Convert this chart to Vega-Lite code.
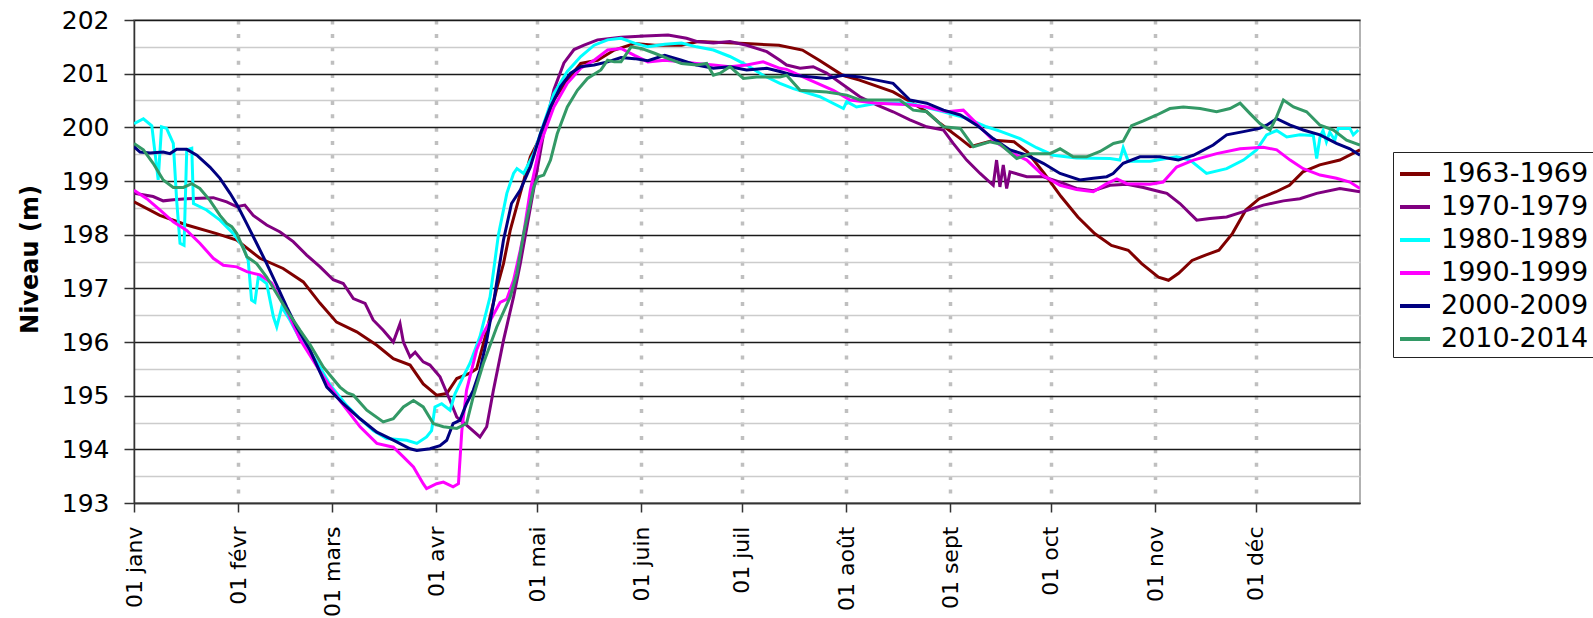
{
  "$schema": "https://vega.github.io/schema/vega-lite/v6.json",
  "width": 1226,
  "height": 483,
  "autosize": "none",
  "padding": {"left": 134, "top": 20, "right": 233, "bottom": 115},
  "background": "white",
  "config": {
    "view": {"stroke": "#999999", "strokeWidth": 1.5},
    "font": "DejaVu Sans"
  },
  "data": {"values": [
    {"periode":"1963-1969","jour":0,"niveau":198.61},{"periode":"1963-1969","jour":7.7,"niveau":198.36},{"periode":"1963-1969","jour":15.7,"niveau":198.18},{"periode":"1963-1969","jour":24.6,"niveau":198.02},{"periode":"1963-1969","jour":30.6,"niveau":197.9},{"periode":"1963-1969","jour":37.5,"niveau":197.56},{"periode":"1963-1969","jour":44.4,"niveau":197.37},{"periode":"1963-1969","jour":50.4,"niveau":197.12},{"periode":"1963-1969","jour":55.4,"niveau":196.72},{"periode":"1963-1969","jour":60.3,"niveau":196.37},{"periode":"1963-1969","jour":66.3,"niveau":196.19},{"periode":"1963-1969","jour":72.3,"niveau":195.94},{"periode":"1963-1969","jour":77.2,"niveau":195.69},{"periode":"1963-1969","jour":82.2,"niveau":195.57},{"periode":"1963-1969","jour":86.1,"niveau":195.22},{"periode":"1963-1969","jour":90.1,"niveau":195.01},{"periode":"1963-1969","jour":93.1,"niveau":195.04},{"periode":"1963-1969","jour":96.1,"niveau":195.32},{"periode":"1963-1969","jour":100,"niveau":195.42},{"periode":"1963-1969","jour":102,"niveau":195.5},{"periode":"1963-1969","jour":105,"niveau":196.2},{"periode":"1963-1969","jour":108,"niveau":197.0},{"periode":"1963-1969","jour":110,"niveau":197.46},{"periode":"1963-1969","jour":112,"niveau":198.08},{"periode":"1963-1969","jour":115,"niveau":198.77},{"periode":"1963-1969","jour":118,"niveau":199.45},{"periode":"1963-1969","jour":121,"niveau":199.82},{"periode":"1963-1969","jour":125,"niveau":200.51},{"periode":"1963-1969","jour":129,"niveau":200.88},{"periode":"1963-1969","jour":133,"niveau":201.19},{"periode":"1963-1969","jour":138,"niveau":201.25},{"periode":"1963-1969","jour":143,"niveau":201.44},{"periode":"1963-1969","jour":149,"niveau":201.56},{"periode":"1963-1969","jour":155,"niveau":201.53},{"periode":"1963-1969","jour":163,"niveau":201.53},{"periode":"1963-1969","jour":168,"niveau":201.6},{"periode":"1963-1969","jour":182,"niveau":201.56},{"periode":"1963-1969","jour":192,"niveau":201.53},{"periode":"1963-1969","jour":199,"niveau":201.44},{"periode":"1963-1969","jour":204,"niveau":201.25},{"periode":"1963-1969","jour":211,"niveau":200.97},{"periode":"1963-1969","jour":216,"niveau":200.88},{"periode":"1963-1969","jour":226,"niveau":200.66},{"periode":"1963-1969","jour":231,"niveau":200.48},{"periode":"1963-1969","jour":236,"niveau":200.29},{"periode":"1963-1969","jour":240,"niveau":200.07},{"periode":"1963-1969","jour":246,"niveau":199.79},{"periode":"1963-1969","jour":249,"niveau":199.64},{"periode":"1963-1969","jour":256,"niveau":199.76},{"periode":"1963-1969","jour":262,"niveau":199.73},{"periode":"1963-1969","jour":266,"niveau":199.54},{"periode":"1963-1969","jour":271,"niveau":199.14},{"periode":"1963-1969","jour":276,"niveau":198.71},{"periode":"1963-1969","jour":281,"niveau":198.33},{"periode":"1963-1969","jour":286,"niveau":198.02},{"periode":"1963-1969","jour":291,"niveau":197.8},{"periode":"1963-1969","jour":296,"niveau":197.71},{"periode":"1963-1969","jour":300,"niveau":197.46},{"periode":"1963-1969","jour":305,"niveau":197.21},{"periode":"1963-1969","jour":308,"niveau":197.15},{"periode":"1963-1969","jour":311,"niveau":197.28},{"periode":"1963-1969","jour":315,"niveau":197.52},{"periode":"1963-1969","jour":319,"niveau":197.62},{"periode":"1963-1969","jour":323,"niveau":197.71},{"periode":"1963-1969","jour":327,"niveau":198.02},{"periode":"1963-1969","jour":331,"niveau":198.46},{"periode":"1963-1969","jour":335,"niveau":198.67},{"periode":"1963-1969","jour":340,"niveau":198.8},{"periode":"1963-1969","jour":344,"niveau":198.92},{"periode":"1963-1969","jour":348,"niveau":199.17},{"periode":"1963-1969","jour":353,"niveau":199.3},{"periode":"1963-1969","jour":359,"niveau":199.39},{"periode":"1963-1969","jour":365,"niveau":199.58},

    {"periode":"1970-1979","jour":0,"niveau":198.77},{"periode":"1970-1979","jour":5.7,"niveau":198.71},{"periode":"1970-1979","jour":8.7,"niveau":198.63},{"periode":"1970-1979","jour":11.7,"niveau":198.65},{"periode":"1970-1979","jour":15.7,"niveau":198.67},{"periode":"1970-1979","jour":23.6,"niveau":198.69},{"periode":"1970-1979","jour":27.6,"niveau":198.61},{"periode":"1970-1979","jour":30.6,"niveau":198.52},{"periode":"1970-1979","jour":33,"niveau":198.55},{"periode":"1970-1979","jour":35.5,"niveau":198.36},{"periode":"1970-1979","jour":39.5,"niveau":198.18},{"periode":"1970-1979","jour":43.5,"niveau":198.05},{"periode":"1970-1979","jour":47.4,"niveau":197.87},{"periode":"1970-1979","jour":51.4,"niveau":197.62},{"periode":"1970-1979","jour":55.4,"niveau":197.4},{"periode":"1970-1979","jour":59.3,"niveau":197.16},{"periode":"1970-1979","jour":62.3,"niveau":197.09},{"periode":"1970-1979","jour":65.3,"niveau":196.81},{"periode":"1970-1979","jour":68.8,"niveau":196.72},{"periode":"1970-1979","jour":71.2,"niveau":196.41},{"periode":"1970-1979","jour":74.2,"niveau":196.22},{"periode":"1970-1979","jour":77.2,"niveau":196.0},{"periode":"1970-1979","jour":79.2,"niveau":196.34},{"periode":"1970-1979","jour":80.2,"niveau":196.0},{"periode":"1970-1979","jour":82.2,"niveau":195.72},{"periode":"1970-1979","jour":83.7,"niveau":195.81},{"periode":"1970-1979","jour":86.1,"niveau":195.63},{"periode":"1970-1979","jour":88.1,"niveau":195.57},{"periode":"1970-1979","jour":91.1,"niveau":195.35},{"periode":"1970-1979","jour":94.1,"niveau":194.91},{"periode":"1970-1979","jour":96.1,"niveau":194.6},{"periode":"1970-1979","jour":99,"niveau":194.45},{"periode":"1970-1979","jour":103,"niveau":194.23},{"periode":"1970-1979","jour":105,"niveau":194.42},{"periode":"1970-1979","jour":107,"niveau":195.1},{"periode":"1970-1979","jour":110,"niveau":196.03},{"periode":"1970-1979","jour":113,"niveau":196.84},{"periode":"1970-1979","jour":115,"niveau":197.46},{"periode":"1970-1979","jour":118,"niveau":198.5},{"periode":"1970-1979","jour":120,"niveau":199.2},{"periode":"1970-1979","jour":122,"niveau":199.9},{"periode":"1970-1979","jour":125,"niveau":200.7},{"periode":"1970-1979","jour":128,"niveau":201.2},{"periode":"1970-1979","jour":131,"niveau":201.45},{"periode":"1970-1979","jour":134,"niveau":201.53},{"periode":"1970-1979","jour":138,"niveau":201.63},{"periode":"1970-1979","jour":145,"niveau":201.68},{"periode":"1970-1979","jour":152,"niveau":201.7},{"periode":"1970-1979","jour":159,"niveau":201.72},{"periode":"1970-1979","jour":164.5,"niveau":201.66},{"periode":"1970-1979","jour":167.5,"niveau":201.6},{"periode":"1970-1979","jour":172.5,"niveau":201.57},{"periode":"1970-1979","jour":177.4,"niveau":201.6},{"periode":"1970-1979","jour":182.4,"niveau":201.53},{"periode":"1970-1979","jour":188.4,"niveau":201.41},{"periode":"1970-1979","jour":192.3,"niveau":201.25},{"periode":"1970-1979","jour":194.3,"niveau":201.16},{"periode":"1970-1979","jour":198.3,"niveau":201.1},{"periode":"1970-1979","jour":202.2,"niveau":201.13},{"periode":"1970-1979","jour":206.2,"niveau":201.01},{"periode":"1970-1979","jour":211.2,"niveau":200.79},{"periode":"1970-1979","jour":216.1,"niveau":200.57},{"periode":"1970-1979","jour":221.1,"niveau":200.42},{"periode":"1970-1979","jour":226,"niveau":200.29},{"periode":"1970-1979","jour":231,"niveau":200.14},{"periode":"1970-1979","jour":236,"niveau":200.01},{"periode":"1970-1979","jour":241,"niveau":199.95},{"periode":"1970-1979","jour":243.9,"niveau":199.7},{"periode":"1970-1979","jour":247.9,"niveau":199.39},{"periode":"1970-1979","jour":251.9,"niveau":199.14},{"periode":"1970-1979","jour":255.8,"niveau":198.92},{"periode":"1970-1979","jour":256.8,"niveau":199.39},{"periode":"1970-1979","jour":257.8,"niveau":198.89},{"periode":"1970-1979","jour":258.8,"niveau":199.3},{"periode":"1970-1979","jour":259.8,"niveau":198.86},{"periode":"1970-1979","jour":260.8,"niveau":199.17},{"periode":"1970-1979","jour":265.8,"niveau":199.08},{"periode":"1970-1979","jour":270.7,"niveau":199.08},{"periode":"1970-1979","jour":275.7,"niveau":198.98},{"periode":"1970-1979","jour":280.6,"niveau":198.86},{"periode":"1970-1979","jour":285.6,"niveau":198.82},{"periode":"1970-1979","jour":290.6,"niveau":198.92},{"periode":"1970-1979","jour":295.6,"niveau":198.94},{"periode":"1970-1979","jour":300.5,"niveau":198.88},{"periode":"1970-1979","jour":305.5,"niveau":198.8},{"periode":"1970-1979","jour":307.5,"niveau":198.77},{"periode":"1970-1979","jour":311.4,"niveau":198.58},{"periode":"1970-1979","jour":316.4,"niveau":198.27},{"periode":"1970-1979","jour":320.3,"niveau":198.3},{"periode":"1970-1979","jour":325.3,"niveau":198.33},{"periode":"1970-1979","jour":330.3,"niveau":198.43},{"periode":"1970-1979","jour":336.2,"niveau":198.55},{"periode":"1970-1979","jour":342.2,"niveau":198.63},{"periode":"1970-1979","jour":347.1,"niveau":198.67},{"periode":"1970-1979","jour":352.1,"niveau":198.77},{"periode":"1970-1979","jour":359,"niveau":198.86},{"periode":"1970-1979","jour":365,"niveau":198.8},

    {"periode":"1980-1989","jour":0,"niveau":200.07},{"periode":"1980-1989","jour":2.8,"niveau":200.16},{"periode":"1980-1989","jour":5.3,"niveau":200.03},{"periode":"1980-1989","jour":6.3,"niveau":199.5},{"periode":"1980-1989","jour":7.2,"niveau":199.02},{"periode":"1980-1989","jour":8.2,"niveau":200.01},{"periode":"1980-1989","jour":9.7,"niveau":199.98},{"periode":"1980-1989","jour":11.7,"niveau":199.7},{"periode":"1980-1989","jour":12.7,"niveau":198.64},{"periode":"1980-1989","jour":13.7,"niveau":197.84},{"periode":"1980-1989","jour":14.9,"niveau":197.8},{"periode":"1980-1989","jour":15.7,"niveau":199.58},{"periode":"1980-1989","jour":17.2,"niveau":199.61},{"periode":"1980-1989","jour":17.7,"niveau":198.58},{"periode":"1980-1989","jour":21.6,"niveau":198.46},{"periode":"1980-1989","jour":25.6,"niveau":198.27},{"periode":"1980-1989","jour":29.6,"niveau":198.02},{"periode":"1980-1989","jour":32.5,"niveau":197.77},{"periode":"1980-1989","jour":34,"niveau":197.52},{"periode":"1980-1989","jour":35,"niveau":196.78},{"periode":"1980-1989","jour":36,"niveau":196.74},{"periode":"1980-1989","jour":37,"niveau":197.21},{"periode":"1980-1989","jour":39.5,"niveau":197.09},{"periode":"1980-1989","jour":41.5,"niveau":196.47},{"periode":"1980-1989","jour":42.5,"niveau":196.28},{"periode":"1980-1989","jour":44,"niveau":196.65},{"periode":"1980-1989","jour":46.4,"niveau":196.41},{"periode":"1980-1989","jour":49.4,"niveau":196.06},{"periode":"1980-1989","jour":52.4,"niveau":195.82},{"periode":"1980-1989","jour":55.4,"niveau":195.53},{"periode":"1980-1989","jour":58.4,"niveau":195.2},{"periode":"1980-1989","jour":63.3,"niveau":194.82},{"periode":"1980-1989","jour":67.3,"niveau":194.57},{"periode":"1980-1989","jour":71.2,"niveau":194.35},{"periode":"1980-1989","jour":75.2,"niveau":194.2},{"periode":"1980-1989","jour":81.2,"niveau":194.17},{"periode":"1980-1989","jour":84.2,"niveau":194.11},{"periode":"1980-1989","jour":87.1,"niveau":194.23},{"periode":"1980-1989","jour":88.6,"niveau":194.35},{"periode":"1980-1989","jour":89.6,"niveau":194.79},{"periode":"1980-1989","jour":91.6,"niveau":194.85},{"periode":"1980-1989","jour":94.1,"niveau":194.73},{"periode":"1980-1989","jour":95.6,"niveau":195.04},{"periode":"1980-1989","jour":98,"niveau":195.35},{"periode":"1980-1989","jour":100,"niveau":195.6},{"periode":"1980-1989","jour":103,"niveau":196.1},{"periode":"1980-1989","jour":106,"niveau":196.84},{"periode":"1980-1989","jour":108.5,"niveau":198.0},{"periode":"1980-1989","jour":111,"niveau":198.77},{"periode":"1980-1989","jour":113,"niveau":199.14},{"periode":"1980-1989","jour":114,"niveau":199.23},{"periode":"1980-1989","jour":116,"niveau":199.14},{"periode":"1980-1989","jour":119,"niveau":199.51},{"periode":"1980-1989","jour":122,"niveau":200.07},{"periode":"1980-1989","jour":125,"niveau":200.63},{"periode":"1980-1989","jour":129,"niveau":201.04},{"periode":"1980-1989","jour":133,"niveau":201.32},{"periode":"1980-1989","jour":137,"niveau":201.53},{"periode":"1980-1989","jour":141,"niveau":201.63},{"periode":"1980-1989","jour":145,"niveau":201.66},{"periode":"1980-1989","jour":149,"niveau":201.57},{"periode":"1980-1989","jour":153,"niveau":201.5},{"periode":"1980-1989","jour":158,"niveau":201.55},{"periode":"1980-1989","jour":163,"niveau":201.57},{"periode":"1980-1989","jour":167.5,"niveau":201.5},{"periode":"1980-1989","jour":172.5,"niveau":201.44},{"periode":"1980-1989","jour":177.4,"niveau":201.32},{"periode":"1980-1989","jour":182.4,"niveau":201.16},{"periode":"1980-1989","jour":187.3,"niveau":200.97},{"periode":"1980-1989","jour":192.3,"niveau":200.82},{"periode":"1980-1989","jour":196.3,"niveau":200.72},{"periode":"1980-1989","jour":204.2,"niveau":200.57},{"periode":"1980-1989","jour":211.2,"niveau":200.35},{"periode":"1980-1989","jour":212.2,"niveau":200.48},{"periode":"1980-1989","jour":215.1,"niveau":200.38},{"periode":"1980-1989","jour":221.1,"niveau":200.45},{"periode":"1980-1989","jour":231,"niveau":200.45},{"periode":"1980-1989","jour":241,"niveau":200.29},{"periode":"1980-1989","jour":247.9,"niveau":200.17},{"periode":"1980-1989","jour":253.8,"niveau":200.01},{"periode":"1980-1989","jour":257.8,"niveau":199.93},{"periode":"1980-1989","jour":263.8,"niveau":199.79},{"periode":"1980-1989","jour":268.7,"niveau":199.62},{"periode":"1980-1989","jour":273.7,"niveau":199.48},{"periode":"1980-1989","jour":280.6,"niveau":199.43},{"periode":"1980-1989","jour":290.6,"niveau":199.42},{"periode":"1980-1989","jour":293.5,"niveau":199.39},{"periode":"1980-1989","jour":294.5,"niveau":199.62},{"periode":"1980-1989","jour":296,"niveau":199.37},{"periode":"1980-1989","jour":302.5,"niveau":199.37},{"periode":"1980-1989","jour":310.4,"niveau":199.45},{"periode":"1980-1989","jour":314.4,"niveau":199.39},{"periode":"1980-1989","jour":319.3,"niveau":199.14},{"periode":"1980-1989","jour":325.3,"niveau":199.23},{"periode":"1980-1989","jour":330.3,"niveau":199.39},{"periode":"1980-1989","jour":334.2,"niveau":199.58},{"periode":"1980-1989","jour":337.2,"niveau":199.86},{"periode":"1980-1989","jour":340.2,"niveau":199.94},{"periode":"1980-1989","jour":343.2,"niveau":199.82},{"periode":"1980-1989","jour":347.1,"niveau":199.86},{"periode":"1980-1989","jour":351.1,"niveau":199.85},{"periode":"1980-1989","jour":352.1,"niveau":199.42},{"periode":"1980-1989","jour":353.1,"niveau":199.82},{"periode":"1980-1989","jour":354,"niveau":199.94},{"periode":"1980-1989","jour":355,"niveau":199.73},{"periode":"1980-1989","jour":356,"niveau":199.91},{"periode":"1980-1989","jour":357.5,"niveau":199.76},{"periode":"1980-1989","jour":358.5,"niveau":199.98},{"periode":"1980-1989","jour":362,"niveau":199.98},{"periode":"1980-1989","jour":363,"niveau":199.86},{"periode":"1980-1989","jour":364.5,"niveau":199.95},

    {"periode":"1990-1999","jour":0,"niveau":198.83},{"periode":"1990-1999","jour":3.8,"niveau":198.67},{"periode":"1990-1999","jour":7.7,"niveau":198.46},{"periode":"1990-1999","jour":11.7,"niveau":198.24},{"periode":"1990-1999","jour":15.7,"niveau":198.08},{"periode":"1990-1999","jour":19.6,"niveau":197.84},{"periode":"1990-1999","jour":23.6,"niveau":197.56},{"periode":"1990-1999","jour":26.6,"niveau":197.43},{"periode":"1990-1999","jour":30.6,"niveau":197.4},{"periode":"1990-1999","jour":33.6,"niveau":197.31},{"periode":"1990-1999","jour":37.5,"niveau":197.25},{"periode":"1990-1999","jour":41,"niveau":197.1},{"periode":"1990-1999","jour":45,"niveau":196.65},{"periode":"1990-1999","jour":49.4,"niveau":196.05},{"periode":"1990-1999","jour":56.4,"niveau":195.35},{"periode":"1990-1999","jour":61.3,"niveau":194.91},{"periode":"1990-1999","jour":67.3,"niveau":194.42},{"periode":"1990-1999","jour":72.3,"niveau":194.11},{"periode":"1990-1999","jour":77.2,"niveau":194.04},{"periode":"1990-1999","jour":80.2,"niveau":193.86},{"periode":"1990-1999","jour":83.2,"niveau":193.67},{"periode":"1990-1999","jour":86.1,"niveau":193.36},{"periode":"1990-1999","jour":87.1,"niveau":193.27},{"periode":"1990-1999","jour":90.1,"niveau":193.36},{"periode":"1990-1999","jour":92.1,"niveau":193.39},{"periode":"1990-1999","jour":95,"niveau":193.3},{"periode":"1990-1999","jour":96.6,"niveau":193.36},{"periode":"1990-1999","jour":97.6,"niveau":194.35},{"periode":"1990-1999","jour":99,"niveau":195.1},{"periode":"1990-1999","jour":102,"niveau":195.85},{"periode":"1990-1999","jour":104,"niveau":196.16},{"periode":"1990-1999","jour":109,"niveau":196.74},{"periode":"1990-1999","jour":111,"niveau":196.8},{"periode":"1990-1999","jour":113,"niveau":197.15},{"periode":"1990-1999","jour":115,"niveau":197.71},{"periode":"1990-1999","jour":116,"niveau":198.02},{"periode":"1990-1999","jour":118,"niveau":198.83},{"periode":"1990-1999","jour":121,"niveau":199.7},{"periode":"1990-1999","jour":125,"niveau":200.38},{"periode":"1990-1999","jour":129,"niveau":200.82},{"periode":"1990-1999","jour":133,"niveau":201.1},{"periode":"1990-1999","jour":137,"niveau":201.25},{"periode":"1990-1999","jour":141,"niveau":201.44},{"periode":"1990-1999","jour":145,"niveau":201.47},{"periode":"1990-1999","jour":149,"niveau":201.34},{"periode":"1990-1999","jour":153,"niveau":201.22},{"periode":"1990-1999","jour":158,"niveau":201.25},{"periode":"1990-1999","jour":163,"niveau":201.22},{"periode":"1990-1999","jour":167.5,"niveau":201.19},{"periode":"1990-1999","jour":172.5,"niveau":201.16},{"periode":"1990-1999","jour":177.4,"niveau":201.13},{"periode":"1990-1999","jour":182.4,"niveau":201.16},{"periode":"1990-1999","jour":187.3,"niveau":201.22},{"periode":"1990-1999","jour":192.3,"niveau":201.1},{"periode":"1990-1999","jour":194.3,"niveau":201.08},{"periode":"1990-1999","jour":201.3,"niveau":200.88},{"periode":"1990-1999","jour":208.2,"niveau":200.69},{"periode":"1990-1999","jour":213.2,"niveau":200.51},{"periode":"1990-1999","jour":221.1,"niveau":200.45},{"periode":"1990-1999","jour":231,"niveau":200.42},{"periode":"1990-1999","jour":236,"niveau":200.38},{"periode":"1990-1999","jour":242,"niveau":200.29},{"periode":"1990-1999","jour":246.9,"niveau":200.32},{"periode":"1990-1999","jour":250.9,"niveau":200.07},{"periode":"1990-1999","jour":255.8,"niveau":199.76},{"periode":"1990-1999","jour":261.8,"niveau":199.51},{"periode":"1990-1999","jour":265.8,"niveau":199.39},{"periode":"1990-1999","jour":270.7,"niveau":199.1},{"periode":"1990-1999","jour":275.7,"niveau":198.92},{"periode":"1990-1999","jour":280.6,"niveau":198.84},{"periode":"1990-1999","jour":285.6,"niveau":198.8},{"periode":"1990-1999","jour":289.6,"niveau":198.95},{"periode":"1990-1999","jour":292.6,"niveau":199.04},{"periode":"1990-1999","jour":295.6,"niveau":198.95},{"periode":"1990-1999","jour":302.5,"niveau":198.94},{"periode":"1990-1999","jour":306.4,"niveau":198.98},{"periode":"1990-1999","jour":310.4,"niveau":199.26},{"periode":"1990-1999","jour":315.4,"niveau":199.39},{"periode":"1990-1999","jour":322.3,"niveau":199.51},{"periode":"1990-1999","jour":329.3,"niveau":199.6},{"periode":"1990-1999","jour":336.2,"niveau":199.63},{"periode":"1990-1999","jour":340.2,"niveau":199.58},{"periode":"1990-1999","jour":344.2,"niveau":199.39},{"periode":"1990-1999","jour":348.1,"niveau":199.23},{"periode":"1990-1999","jour":353.1,"niveau":199.11},{"periode":"1990-1999","jour":358,"niveau":199.05},{"periode":"1990-1999","jour":362,"niveau":198.98},{"periode":"1990-1999","jour":365,"niveau":198.86},

    {"periode":"2000-2009","jour":0,"niveau":199.64},{"periode":"2000-2009","jour":1.8,"niveau":199.54},{"periode":"2000-2009","jour":4.8,"niveau":199.52},{"periode":"2000-2009","jour":8.7,"niveau":199.54},{"periode":"2000-2009","jour":10.7,"niveau":199.51},{"periode":"2000-2009","jour":12.7,"niveau":199.59},{"periode":"2000-2009","jour":15.7,"niveau":199.59},{"periode":"2000-2009","jour":18.7,"niveau":199.48},{"periode":"2000-2009","jour":22.6,"niveau":199.26},{"periode":"2000-2009","jour":25.6,"niveau":199.05},{"periode":"2000-2009","jour":28.6,"niveau":198.77},{"periode":"2000-2009","jour":31,"niveau":198.52},{"periode":"2000-2009","jour":33.6,"niveau":198.2},{"periode":"2000-2009","jour":36.5,"niveau":197.84},{"periode":"2000-2009","jour":39.5,"niveau":197.46},{"periode":"2000-2009","jour":42.5,"niveau":197.06},{"periode":"2000-2009","jour":45.5,"niveau":196.65},{"periode":"2000-2009","jour":48.4,"niveau":196.28},{"periode":"2000-2009","jour":52.4,"niveau":195.85},{"periode":"2000-2009","jour":57.4,"niveau":195.16},{"periode":"2000-2009","jour":62.3,"niveau":194.85},{"periode":"2000-2009","jour":67.3,"niveau":194.57},{"periode":"2000-2009","jour":72.3,"niveau":194.32},{"periode":"2000-2009","jour":77.2,"niveau":194.17},{"periode":"2000-2009","jour":82.2,"niveau":194.01},{"periode":"2000-2009","jour":84.2,"niveau":193.98},{"periode":"2000-2009","jour":88.1,"niveau":194.01},{"periode":"2000-2009","jour":91.1,"niveau":194.07},{"periode":"2000-2009","jour":93.1,"niveau":194.17},{"periode":"2000-2009","jour":95,"niveau":194.48},{"periode":"2000-2009","jour":97,"niveau":194.54},{"periode":"2000-2009","jour":99,"niveau":194.85},{"periode":"2000-2009","jour":101,"niveau":195.1},{"periode":"2000-2009","jour":103,"niveau":195.47},{"periode":"2000-2009","jour":105,"niveau":196.03},{"periode":"2000-2009","jour":107,"niveau":196.72},{"periode":"2000-2009","jour":110,"niveau":197.9},{"periode":"2000-2009","jour":112.4,"niveau":198.58},{"periode":"2000-2009","jour":115,"niveau":198.83},{"periode":"2000-2009","jour":118,"niveau":199.26},{"periode":"2000-2009","jour":121,"niveau":199.88},{"periode":"2000-2009","jour":124,"niveau":200.38},{"periode":"2000-2009","jour":127,"niveau":200.76},{"periode":"2000-2009","jour":130,"niveau":201.01},{"periode":"2000-2009","jour":133,"niveau":201.13},{"periode":"2000-2009","jour":137,"niveau":201.16},{"periode":"2000-2009","jour":141,"niveau":201.22},{"periode":"2000-2009","jour":145,"niveau":201.3},{"periode":"2000-2009","jour":149,"niveau":201.28},{"periode":"2000-2009","jour":153,"niveau":201.24},{"periode":"2000-2009","jour":158,"niveau":201.34},{"periode":"2000-2009","jour":163,"niveau":201.25},{"periode":"2000-2009","jour":167.5,"niveau":201.16},{"periode":"2000-2009","jour":172.5,"niveau":201.1},{"periode":"2000-2009","jour":177.4,"niveau":201.13},{"periode":"2000-2009","jour":182.4,"niveau":201.07},{"periode":"2000-2009","jour":188.4,"niveau":201.1},{"periode":"2000-2009","jour":192.3,"niveau":201.04},{"periode":"2000-2009","jour":196.3,"niveau":200.97},{"periode":"2000-2009","jour":206.2,"niveau":200.91},{"periode":"2000-2009","jour":211.2,"niveau":200.97},{"periode":"2000-2009","jour":216.1,"niveau":200.94},{"periode":"2000-2009","jour":221.1,"niveau":200.88},{"periode":"2000-2009","jour":226,"niveau":200.82},{"periode":"2000-2009","jour":231,"niveau":200.51},{"periode":"2000-2009","jour":236,"niveau":200.45},{"periode":"2000-2009","jour":241,"niveau":200.32},{"periode":"2000-2009","jour":246,"niveau":200.23},{"periode":"2000-2009","jour":250.9,"niveau":200.04},{"periode":"2000-2009","jour":255.8,"niveau":199.79},{"periode":"2000-2009","jour":260.8,"niveau":199.58},{"periode":"2000-2009","jour":265.8,"niveau":199.48},{"periode":"2000-2009","jour":270.7,"niveau":199.33},{"periode":"2000-2009","jour":275.7,"niveau":199.14},{"periode":"2000-2009","jour":281.6,"niveau":199.02},{"periode":"2000-2009","jour":285.6,"niveau":199.05},{"periode":"2000-2009","jour":289.6,"niveau":199.08},{"periode":"2000-2009","jour":291.5,"niveau":199.14},{"periode":"2000-2009","jour":294.5,"niveau":199.33},{"periode":"2000-2009","jour":299.5,"niveau":199.45},{"periode":"2000-2009","jour":305.5,"niveau":199.45},{"periode":"2000-2009","jour":310.9,"niveau":199.39},{"periode":"2000-2009","jour":315.4,"niveau":199.48},{"periode":"2000-2009","jour":321.3,"niveau":199.67},{"periode":"2000-2009","jour":325.3,"niveau":199.86},{"periode":"2000-2009","jour":330.3,"niveau":199.92},{"periode":"2000-2009","jour":335.1,"niveau":199.98},{"periode":"2000-2009","jour":337.2,"niveau":200.04},{"periode":"2000-2009","jour":340.2,"niveau":200.16},{"periode":"2000-2009","jour":344.2,"niveau":200.04},{"periode":"2000-2009","jour":348.1,"niveau":199.95},{"periode":"2000-2009","jour":353.1,"niveau":199.86},{"periode":"2000-2009","jour":358,"niveau":199.7},{"periode":"2000-2009","jour":362,"niveau":199.6},{"periode":"2000-2009","jour":365,"niveau":199.48},

    {"periode":"2010-2014","jour":0,"niveau":199.7},{"periode":"2010-2014","jour":2.8,"niveau":199.58},{"periode":"2010-2014","jour":5.7,"niveau":199.33},{"periode":"2010-2014","jour":8.7,"niveau":199.02},{"periode":"2010-2014","jour":11.7,"niveau":198.88},{"periode":"2010-2014","jour":14.7,"niveau":198.88},{"periode":"2010-2014","jour":17.2,"niveau":198.95},{"periode":"2010-2014","jour":19.6,"niveau":198.86},{"periode":"2010-2014","jour":22.6,"niveau":198.64},{"periode":"2010-2014","jour":25.6,"niveau":198.36},{"periode":"2010-2014","jour":27.6,"niveau":198.21},{"periode":"2010-2014","jour":29.1,"niveau":198.15},{"periode":"2010-2014","jour":30.6,"niveau":198.02},{"periode":"2010-2014","jour":33.6,"niveau":197.59},{"periode":"2010-2014","jour":36.5,"niveau":197.46},{"periode":"2010-2014","jour":39.5,"niveau":197.21},{"periode":"2010-2014","jour":42.5,"niveau":196.9},{"periode":"2010-2014","jour":45.5,"niveau":196.59},{"periode":"2010-2014","jour":49.4,"niveau":196.22},{"periode":"2010-2014","jour":52.4,"niveau":195.95},{"periode":"2010-2014","jour":56.4,"niveau":195.53},{"periode":"2010-2014","jour":61.3,"niveau":195.16},{"periode":"2010-2014","jour":63.5,"niveau":195.05},{"periode":"2010-2014","jour":65.3,"niveau":195.01},{"periode":"2010-2014","jour":69.3,"niveau":194.73},{"periode":"2010-2014","jour":74.2,"niveau":194.51},{"periode":"2010-2014","jour":77.2,"niveau":194.57},{"periode":"2010-2014","jour":80.2,"niveau":194.79},{"periode":"2010-2014","jour":83.2,"niveau":194.91},{"periode":"2010-2014","jour":86.1,"niveau":194.79},{"periode":"2010-2014","jour":89.1,"niveau":194.48},{"periode":"2010-2014","jour":92.1,"niveau":194.42},{"periode":"2010-2014","jour":96.1,"niveau":194.39},{"periode":"2010-2014","jour":99,"niveau":194.48},{"periode":"2010-2014","jour":101,"niveau":194.98},{"periode":"2010-2014","jour":104,"niveau":195.6},{"periode":"2010-2014","jour":108,"niveau":196.28},{"periode":"2010-2014","jour":112,"niveau":196.84},{"periode":"2010-2014","jour":114,"niveau":197.28},{"periode":"2010-2014","jour":116,"niveau":198.02},{"periode":"2010-2014","jour":119,"niveau":198.89},{"periode":"2010-2014","jour":120.4,"niveau":199.08},{"periode":"2010-2014","jour":122,"niveau":199.11},{"periode":"2010-2014","jour":124,"niveau":199.39},{"periode":"2010-2014","jour":126,"niveau":199.88},{"periode":"2010-2014","jour":129,"niveau":200.38},{"periode":"2010-2014","jour":132,"niveau":200.69},{"periode":"2010-2014","jour":135,"niveau":200.91},{"periode":"2010-2014","jour":139,"niveau":201.07},{"periode":"2010-2014","jour":141,"niveau":201.25},{"periode":"2010-2014","jour":143,"niveau":201.22},{"periode":"2010-2014","jour":145,"niveau":201.22},{"periode":"2010-2014","jour":148,"niveau":201.5},{"periode":"2010-2014","jour":151,"niveau":201.47},{"periode":"2010-2014","jour":155,"niveau":201.38},{"periode":"2010-2014","jour":159,"niveau":201.28},{"periode":"2010-2014","jour":163,"niveau":201.19},{"periode":"2010-2014","jour":167.5,"niveau":201.16},{"periode":"2010-2014","jour":170.5,"niveau":201.19},{"periode":"2010-2014","jour":172.5,"niveau":200.97},{"periode":"2010-2014","jour":174.5,"niveau":201.01},{"periode":"2010-2014","jour":177.4,"niveau":201.13},{"periode":"2010-2014","jour":181.4,"niveau":200.91},{"periode":"2010-2014","jour":185.4,"niveau":200.94},{"periode":"2010-2014","jour":192.3,"niveau":200.94},{"periode":"2010-2014","jour":194.3,"niveau":200.97},{"periode":"2010-2014","jour":198.3,"niveau":200.69},{"periode":"2010-2014","jour":206.2,"niveau":200.66},{"periode":"2010-2014","jour":212.2,"niveau":200.6},{"periode":"2010-2014","jour":216.1,"niveau":200.51},{"periode":"2010-2014","jour":228,"niveau":200.51},{"periode":"2010-2014","jour":232,"niveau":200.32},{"periode":"2010-2014","jour":236,"niveau":200.29},{"periode":"2010-2014","jour":241,"niveau":200.01},{"periode":"2010-2014","jour":246,"niveau":199.98},{"periode":"2010-2014","jour":249.9,"niveau":199.64},{"periode":"2010-2014","jour":254.8,"niveau":199.73},{"periode":"2010-2014","jour":257.8,"niveau":199.69},{"periode":"2010-2014","jour":262.8,"niveau":199.42},{"periode":"2010-2014","jour":266.8,"niveau":199.51},{"periode":"2010-2014","jour":272.7,"niveau":199.51},{"periode":"2010-2014","jour":275.7,"niveau":199.6},{"periode":"2010-2014","jour":279.6,"niveau":199.45},{"periode":"2010-2014","jour":283.6,"niveau":199.45},{"periode":"2010-2014","jour":287.6,"niveau":199.55},{"periode":"2010-2014","jour":291.6,"niveau":199.7},{"periode":"2010-2014","jour":294.5,"niveau":199.74},{"periode":"2010-2014","jour":297,"niveau":200.03},{"periode":"2010-2014","jour":300.5,"niveau":200.12},{"periode":"2010-2014","jour":304.5,"niveau":200.23},{"periode":"2010-2014","jour":308.4,"niveau":200.35},{"periode":"2010-2014","jour":312.4,"niveau":200.38},{"periode":"2010-2014","jour":317.4,"niveau":200.35},{"periode":"2010-2014","jour":322.3,"niveau":200.29},{"periode":"2010-2014","jour":326.3,"niveau":200.35},{"periode":"2010-2014","jour":329.3,"niveau":200.45},{"periode":"2010-2014","jour":332.2,"niveau":200.26},{"periode":"2010-2014","jour":335.2,"niveau":200.07},{"periode":"2010-2014","jour":338.2,"niveau":199.95},{"periode":"2010-2014","jour":340.2,"niveau":200.2},{"periode":"2010-2014","jour":342.2,"niveau":200.51},{"periode":"2010-2014","jour":345.2,"niveau":200.38},{"periode":"2010-2014","jour":349.1,"niveau":200.29},{"periode":"2010-2014","jour":353.1,"niveau":200.04},{"periode":"2010-2014","jour":357.1,"niveau":199.95},{"periode":"2010-2014","jour":361,"niveau":199.76},{"periode":"2010-2014","jour":365,"niveau":199.67}
  ]},
  "mark": {"type": "line", "strokeWidth": 3, "clip": true},
  "encoding": {
    "x": {
      "field": "jour", "type": "quantitative",
      "scale": {"domain": [0, 365], "nice": false, "zero": false},
      "axis": {
        "title": null,
        "values": [0, 31, 59, 90, 120, 151, 181, 212, 243, 273, 304, 334],
        "labelExpr": "'01 ' + ['janv','févr','mars','avr','mai','juin','juil','août','sept','oct','nov','déc'][indexof([0,31,59,90,120,151,181,212,243,273,304,334], datum.value)]",
        "labelAngle": 270,
        "labelFont": "DejaVu Sans",
        "labelFontSize": 22,
        "labelColor": "#000000",
        "labelPadding": 14,
        "labelOverlap": false,
        "labelFlush": false,
        "tickSize": 9,
        "tickColor": "#333333",
        "tickWidth": 1.5,
        "domainColor": "#333333",
        "domainWidth": 1.5,
        "grid": true,
        "gridColor": "#bfbfbf",
        "gridWidth": 3.5,
        "gridDash": [4, 9.4],
        "gridOpacity": {"condition": {"test": "datum.value === 0", "value": 0}, "value": 1}
      }
    },
    "y": {
      "field": "niveau", "type": "quantitative",
      "scale": {"domain": [193, 202], "nice": false, "zero": false},
      "axis": {
        "title": "Niveau (m)",
        "titleFont": "DejaVu Sans",
        "titleFontWeight": "bold",
        "titleFontSize": 24,
        "titleColor": "#000000",
        "titleAngle": 270,
        "titleX": -104,
        "titleY": 239,
        "titleAlign": "center",
        "titleBaseline": "middle",
        "values": [193, 193.5, 194, 194.5, 195, 195.5, 196, 196.5, 197, 197.5, 198, 198.5, 199, 199.5, 200, 200.5, 201, 201.5, 202],
        "labelExpr": "datum.value % 1 === 0 ? format(datum.value, 'd') : ''",
        "labelFont": "DejaVu Sans",
        "labelFontSize": 25,
        "labelColor": "#000000",
        "labelPadding": 15,
        "labelOverlap": false,
        "labelFlush": false,
        "tickSize": 10,
        "tickColor": "#333333",
        "tickWidth": 1.5,
        "tickOpacity": {"condition": {"test": "datum.value % 1 === 0", "value": 1}, "value": 0},
        "domainColor": "#333333",
        "domainWidth": 1.5,
        "grid": true,
        "gridColor": {"condition": {"test": "datum.value % 1 === 0", "value": "#1a1a1a"}, "value": "#cccccc"},
        "gridWidth": 1.5
      }
    },
    "color": {
      "field": "periode", "type": "nominal",
      "scale": {
        "domain": ["1963-1969", "1970-1979", "1980-1989", "1990-1999", "2000-2009", "2010-2014"],
        "range": ["#800000", "#800080", "#00ffff", "#ff00ff", "#000080", "#339966"]
      },
      "legend": {
        "title": null,
        "orient": "none",
        "legendX": 1259,
        "legendY": 132,
        "direction": "vertical",
        "fillColor": "#ffffff",
        "strokeColor": "#222222",
        "padding": 5,
        "symbolType": "stroke",
        "symbolSize": 900,
        "symbolStrokeWidth": 4,
        "labelFont": "DejaVu Sans",
        "labelFontSize": 27,
        "labelColor": "#000000",
        "labelOffset": 9,
        "rowPadding": 3
      }
    }
  }
}
